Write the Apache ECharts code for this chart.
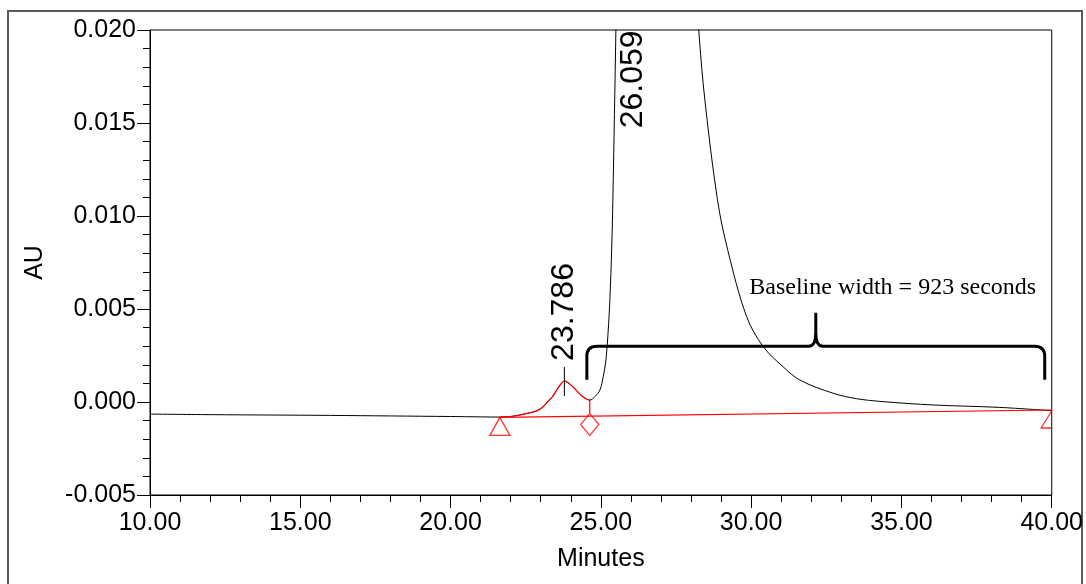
<!DOCTYPE html>
<html>
<head>
<meta charset="utf-8">
<script src="https://cdn.jsdelivr.net/npm/echarts@6/dist/echarts.min.js"></script>
<style>
  html, body { margin: 0; padding: 0; background: #fff; }
  #chart { width: 1086px; height: 584px; }
</style>
</head>
<body>
<div id="chart"></div>
<script>
// Detector trace (retention time in minutes, absorbance in AU)
const traceTime = [10.0, 12.0, 14.0, 16.0, 18.0, 20.0, 21.0, 21.64, 22.0, 22.3, 22.55, 22.74, 22.9, 23.07,
  23.25, 23.4, 23.55, 23.7, 23.786, 23.9, 24.05, 24.2, 24.35, 24.5, 24.63, 24.8, 24.97, 25.08, 25.17,
  25.24, 25.30, 25.36, 25.40, 25.50, 25.6, 25.8, 26.059, 26.4, 26.8, 27.3, 27.8, 28.26, 28.46, 28.88,
  29.22, 29.85, 30.40, 31.06, 31.62, 32.73, 33.5, 34.39, 36.05, 38.27, 40.0];
const traceAU = [-0.00065, -0.00068, -0.00070, -0.00072, -0.00075, -0.00078, -0.00080, -0.00081, -0.00078,
  -0.00070, -0.00061, -0.00054, -0.00045, -0.00027, 0.00005, 0.00030, 0.00070, 0.00102, 0.00112, 0.00105,
  0.00085, 0.00060, 0.00035, 0.00018, 0.00010, 0.00029, 0.00065, 0.00137, 0.00227, 0.00373, 0.00551,
  0.00821, 0.01091, 0.01998, 0.030, 0.050, 0.066, 0.063, 0.055, 0.042, 0.030, 0.0199, 0.01625, 0.01087,
  0.00818, 0.00459, 0.00298, 0.0019, 0.00118, 0.00047, 0.00018, 0.00002, -0.00016, -0.00029, -0.00047];

// Integrated minor peak (drawn in red) and the integration baseline
const minorPeakWindow = [21.64, 24.63];
const baselineTime = [21.64, 40.0];
const baselineAU = [-0.00083, -0.00043];
// Integration event marks: start, valley drop, end
const eventTime = [21.64, 24.63, 40.0];
const eventAU = [-0.00083, -0.00078, -0.00043];
const eventKind = ['start', 'valley', 'end'];
const valleyDropAU = [0.00010, -0.00059];

// Retention-time annotations
const peakTimes = [23.786, 26.059];
const peakLabelAU = [0.00484, 0.01735];
const peakTickAU = [0.00188, 0.00032];

// Width bracket for the main peak
const braceTime = [24.534, 39.767];
const braceAU = { foot: 0.0012, bar: 0.0030, tip: 0.0048 };
const braceText = 'Baseline width = 923 seconds';
const braceTextAt = [34.71, 0.00613];

// Axis ticks
const xTicks = { min: 10, max: 40, step: 5 };
const yTicks = { min: -0.005, max: 0.020, step: 0.005 };

const SANS = "'Liberation Sans', Arial, sans-serif";
const SERIF = "'Liberation Serif', 'Times New Roman', serif";

const tracePts = traceTime.map((t, i) => [t, traceAU[i]]);
const minorPts = tracePts.filter(p => p[0] >= minorPeakWindow[0] && p[0] <= minorPeakWindow[1]);

const symbolFor = {
  start: { symbol: 'triangle', symbolSize: [20, 18], symbolOffset: [0, 9] },
  valley: { symbol: 'diamond', symbolSize: [18, 22], symbolOffset: [0, 8] },
  end: { symbol: 'path://M10,0 L0,18 L10,18', symbolSize: [11, 18], symbolOffset: [-5, 9] }
};

const chart = echarts.init(document.getElementById('chart'), null, { renderer: 'canvas' });

chart.setOption({
  animation: false,
  backgroundColor: '#fff',
  grid: { left: 150, right: 34, top: 30, bottom: 89, show: true, borderColor: '#000', borderWidth: 1 },
  graphic: [{
    type: 'rect', silent: true, z: -1,
    shape: { x: 8, y: 11, width: 1074, height: 620 },
    style: { fill: 'none', stroke: '#5a5a5a', lineWidth: 2 }
  }],
  xAxis: {
    type: 'value', min: xTicks.min, max: xTicks.max, interval: xTicks.step,
    name: 'Minutes', nameLocation: 'middle', nameGap: 52,
    nameTextStyle: { fontFamily: SANS, fontSize: 25, color: '#000' },
    axisLine: { show: true, onZero: false, lineStyle: { color: '#000', width: 1 } },
    axisTick: { show: true, inside: false, length: 13, lineStyle: { color: '#000' } },
    minorTick: { show: true, splitNumber: 5, length: 7, lineStyle: { color: '#000' } },
    axisLabel: { fontFamily: SANS, fontSize: 25, color: '#000', margin: 16,
      formatter: v => v.toFixed(2) },
    splitLine: { show: false }
  },
  yAxis: {
    type: 'value', min: yTicks.min, max: yTicks.max, interval: yTicks.step,
    name: 'AU', nameLocation: 'middle', nameGap: 102, nameRotate: 90,
    nameTextStyle: { fontFamily: SANS, fontSize: 25, color: '#000' },
    axisLine: { show: true, onZero: false, lineStyle: { color: '#000', width: 1 } },
    axisTick: { show: true, inside: false, length: 13, lineStyle: { color: '#000' } },
    minorTick: { show: true, splitNumber: 5, length: 7, lineStyle: { color: '#000' } },
    axisLabel: { fontFamily: SANS, fontSize: 25, color: '#000', margin: 14,
      formatter: v => v.toFixed(3) },
    splitLine: { show: false }
  },
  series: [
    {
      name: 'trace', type: 'line', data: tracePts, showSymbol: false, symbol: 'none',
      smooth: 0.35, clip: true,
      lineStyle: { color: '#000', width: 1 }, z: 2
    },
    {
      name: 'minor peak', type: 'line', data: minorPts, symbol: 'none',
      smooth: 0.35, clip: true,
      lineStyle: { color: '#ff0000', width: 1.2 }, z: 3
    },
    {
      name: 'baseline', type: 'line', data: baselineTime.map((t, i) => [t, baselineAU[i]]),
      symbol: 'none', lineStyle: { color: '#ff0000', width: 1.2 }, z: 3
    },
    {
      name: 'valley drop', type: 'line',
      data: valleyDropAU.map(v => [eventTime[1], v]),
      symbol: 'none', lineStyle: { color: '#ff0000', width: 1.2 }, z: 3
    },
    {
      name: 'events', type: 'scatter', z: 4,
      data: eventTime.map((t, i) => Object.assign({ value: [t, eventAU[i]] }, symbolFor[eventKind[i]])),
      itemStyle: { color: 'rgba(0,0,0,0)', borderColor: '#ff0000', borderWidth: 1.3 }
    },
    {
      name: 'peak tick', type: 'line',
      data: peakTickAU.map(v => [peakTimes[0], v]),
      symbol: 'none', lineStyle: { color: '#000', width: 1 }, z: 4
    },
    {
      // Retention time written vertically above each peak
      name: 'retention times', type: 'custom', z: 5, clip: false,
      data: peakTimes.map((t, i) => [t, peakLabelAU[i]]),
      renderItem: (params, api) => {
        const t = api.value(0);
        const [x, y] = api.coord([t, api.value(1)]);
        return {
          type: 'text', x: x, y: y, rotation: Math.PI / 2,
          style: { text: t.toFixed(3), fontFamily: SANS, fontSize: 32, fill: '#000',
            align: 'center', verticalAlign: 'middle' }
        };
      }
    },
    {
      name: 'width bracket', type: 'custom', z: 6, clip: false,
      data: [[braceTime[0], braceTime[1]]],
      renderItem: (params, api) => {
        const t0 = api.value(0), t1 = api.value(1), tm = (t0 + t1) / 2;
        const [x0, yb] = api.coord([t0, braceAU.bar]);
        const [x1] = api.coord([t1, braceAU.bar]);
        const [xm, yt] = api.coord([tm, braceAU.tip]);
        const yf = api.coord([t0, braceAU.foot])[1];
        const r = 10;
        const d = [
          `M${x0},${yf} L${x0},${yb + r} Q${x0},${yb} ${x0 + r},${yb}`,
          `L${xm - 7},${yb} Q${xm},${yb} ${xm},${yb - 14} L${xm},${yt}`,
          `M${xm},${yb - 14} Q${xm},${yb} ${xm + 7},${yb}`,
          `L${x1 - r},${yb} Q${x1},${yb} ${x1},${yb + r} L${x1},${yf}`
        ].join(' ');
        const [tx, ty] = api.coord(braceTextAt);
        return {
          type: 'group',
          children: [
            { type: 'path', shape: { pathData: d },
              style: { fill: 'none', stroke: '#000', lineWidth: 3 } },
            { type: 'text', x: tx, y: ty,
              style: { text: braceText, fontFamily: SERIF, fontSize: 24, fill: '#000',
                align: 'center', verticalAlign: 'middle' } }
          ]
        };
      }
    }
  ]
});
</script>
</body>
</html>
